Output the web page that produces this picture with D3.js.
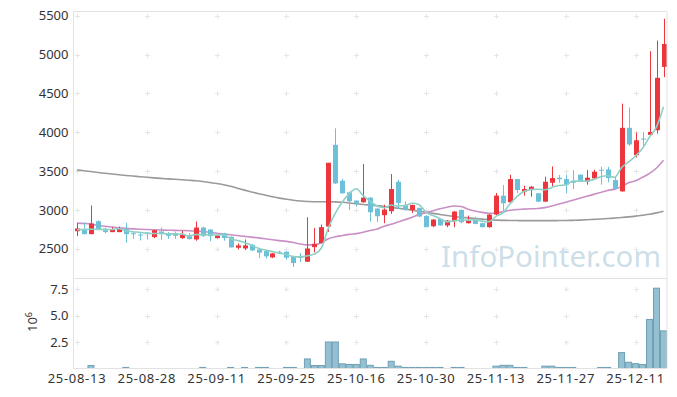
<!DOCTYPE html>
<html><head><meta charset="utf-8">
<script src="https://cdn.jsdelivr.net/npm/d3@7"></script>
<style>
html,body{margin:0;padding:0;background:#fff;}
svg{display:block;}
text{font-family:"Noto Sans",sans-serif;}
</style></head>
<body><svg id="c" width="677" height="397"></svg>
<script>
const dates = ["25-08-13","25-08-14","25-08-18","25-08-19","25-08-20","25-08-21","25-08-22","25-08-25","25-08-26","25-08-27",
"25-08-28","25-08-29","25-09-01","25-09-02","25-09-03","25-09-04","25-09-05","25-09-08","25-09-09","25-09-10",
"25-09-11","25-09-12","25-09-15","25-09-16","25-09-17","25-09-18","25-09-19","25-09-22","25-09-23","25-09-24",
"25-09-25","25-09-26","25-09-29","25-09-30","25-10-01","25-10-02","25-10-10","25-10-13","25-10-14","25-10-15",
"25-10-16","25-10-17","25-10-20","25-10-21","25-10-22","25-10-23","25-10-24","25-10-27","25-10-28","25-10-29",
"25-10-30","25-10-31","25-11-03","25-11-04","25-11-05","25-11-06","25-11-07","25-11-10","25-11-11","25-11-12",
"25-11-13","25-11-14","25-11-17","25-11-18","25-11-19","25-11-20","25-11-21","25-11-24","25-11-25","25-11-26",
"25-11-27","25-11-28","25-12-01","25-12-02","25-12-03","25-12-04","25-12-05","25-12-08","25-12-09","25-12-10",
"25-12-11","25-12-12","25-12-15","25-12-16","25-12-17"];

const open  = [2726,2748,2688,2855,2739,2714,2714,2752,2700,2684, 2709,2650,2722,2700,2700,2637,2662,2620,2773,2748,
2637,2697,2654,2513,2504,2551,2491,2470,2389,2462, 2462,2402,2395,2333,2521,2573,2786,3838,3376,3227,
3120,3098,3158,3017,2932,2983,3363,3064,3000,3026, 2923,2790,2885,2800,2855,3000,2829,2885,2829,2778,
2940,3184,3098,3397,3235,3260,3214,3107,3350,3415, 3397,3376,3453,3367,3406,3517,3521,3385,3239,4057,
3705,3919,3966,4026,4842];
const high  = [2829,2842,3056,2865,2773,2778,2786,2833,2726,2714, 2714,2742,2773,2714,2722,2731,2700,2850,2786,2750,
2675,2705,2660,2568,2620,2560,2500,2475,2445,2475, 2470,2410,2444,2906,2769,2812,3607,4051,3402,3235,
3125,3590,3165,3030,3068,3462,3389,3111,3068,3030, 2930,2880,2890,2870,2985,3005,2927,2914,2835,2950,
3218,3320,3453,3400,3312,3305,3218,3427,3560,3450, 3453,3513,3460,3513,3517,3555,3555,3427,4369,4318,
3996,4004,5043,5180,5462];
const low   = [2662,2685,2688,2750,2700,2714,2714,2577,2628,2607, 2620,2637,2615,2628,2628,2628,2620,2603,2655,2598,
2630,2603,2517,2491,2483,2470,2380,2372,2380,2440, 2360,2265,2329,2333,2453,2570,2718,3333,3210,3000,
3043,3095,2850,2842,2829,2949,3013,2990,2960,2905, 2778,2778,2795,2778,2778,2829,2825,2815,2775,2770,
2935,2970,3095,3218,3184,3171,3100,3100,3300,3350, 3214,3270,3365,3325,3400,3325,3355,3260,3235,3826,
3675,3816,3960,3983,4710];
const close = [2761,2688,2825,2756,2714,2752,2752,2688,2690,2676, 2688,2739,2692,2667,2667,2684,2624,2773,2662,2662,
2671,2637,2517,2543,2543,2479,2449,2402,2440,2450, 2385,2316,2389,2504,2564,2778,3607,3342,3214,3111,
3090,3158,2970,2919,3004,3269,3090,3000,3064,2915, 2778,2876,2800,2863,2979,2842,2863,2820,2778,2940,
3184,3085,3397,3256,3269,3299,3107,3363,3410,3395, 3325,3350,3376,3415,3492,3509,3410,3269,4057,3843,
3897,3905,4004,4701,5137];

const ma5 = [2745,2748,2752,2750,2749,2747,2760,2732,2719,2712, 2699,2696,2697,2692,2691,2690,2667,2683,2682,2681,
2678,2681,2630,2606,2582,2544,2506,2483,2463,2444, 2425,2399,2396,2409,2432,2510,2768,2959,3101,3210,
3273,3183,3109,3050,3028,3064,3050,3056,3085,3068, 2969,2927,2887,2846,2859,2872,2869,2873,2856,2849,
2917,2961,3077,3172,3238,3261,3266,3259,3290,3315, 3320,3369,3371,3372,3392,3428,3440,3419,3547,3618,
3695,3794,3941,4070,4329];
const ma20 = [2830,2826,2818,2800,2790,2780,2770,2762,2756,2751, 2747,2744,2741,2739,2737,2735,2732,2728,2722,2712,
2700,2690,2680,2670,2660,2650,2640,2628,2615,2605, 2595,2580,2562,2550,2550,2578,2630,2655,2670,2685,
2695,2712,2735,2755,2790,2815,2845,2875,2905,2940, 2965,2990,3015,3035,3050,3045,3010,2985,2968,2957,
2960,2975,2995,3005,3010,3015,3018,3030,3050,3075, 3100,3125,3150,3175,3200,3225,3250,3268,3300,3350,
3375,3420,3470,3540,3641];
const ma120 = [3513,3505,3495,3482,3472,3462,3452,3444,3436,3428, 3420,3413,3406,3400,3394,3388,3382,3376,3366,3354,
3340,3325,3305,3280,3255,3230,3208,3190,3170,3152, 3137,3124,3114,3108,3106,3106,3106,3104,3098,3090,
3080,3070,3062,3054,3045,3033,3022,3010,2997,2983, 2970,2956,2942,2928,2916,2906,2898,2890,2882,2874,
2869,2866,2864,2863,2862,2862,2862,2862,2862,2863, 2864,2866,2869,2873,2878,2883,2889,2895,2902,2910,
2920,2932,2945,2962,2983];

const volume = [30000,30000,280000,30000,30000,30000,30000,100000,30000,30000, 30000,30000,30000,30000,30000,30000,30000,30000,100000,30000,
30000,30000,100000,30000,100000,30000,100000,100000,30000,30000, 100000,100000,30000,900000,280000,280000,2500000,2500000,440000,380000,
380000,900000,300000,100000,100000,680000,220000,100000,100000,100000, 100000,100000,100000,30000,100000,100000,30000,30000,30000,30000,
220000,300000,300000,100000,100000,30000,30000,220000,220000,100000, 100000,100000,30000,30000,30000,100000,100000,30000,1500000,590000,
460000,370000,4630000,7580000,3550000];

const xTickLabels = ["25-08-13","25-08-28","25-09-11","25-09-25","25-10-16","25-10-30","25-11-13","25-11-27","25-12-11"];
const priceTicks = [2500,3000,3500,4000,4500,5000,5500];
const volumeTicks = [2500000,5000000,7500000];

const svg = d3.select("#c");
const L = 73.5, R = 667, T = 11.5, PB = 278.5, VB = 368.5;

const x = d3.scaleBand().domain(dates).range([L, R]).padding(0);
const y = d3.scaleLinear().domain([2117, 5555]).range([PB, T]);
const yv = d3.scaleLinear().domain([0, 8400000]).range([VB, PB + 1]);
const cx = d => x(d) + x.bandwidth() / 2;

const gridCol = "#e6e6e6";
const gCross = svg.append("g").attr("stroke", gridCol).attr("stroke-width", 1);
function cross(px, py) {
  gCross.append("line").attr("x1", px - 2.5).attr("x2", px + 2.5).attr("y1", py).attr("y2", py);
  gCross.append("line").attr("x1", px).attr("x2", px).attr("y1", py - 2.5).attr("y2", py + 2.5);
}
xTickLabels.forEach(d => {
  priceTicks.forEach(v => cross(Math.round(cx(d)) + 0.5, Math.round(y(v)) + 0.5));
  volumeTicks.forEach(v => cross(Math.round(cx(d)) + 0.5, Math.round(yv(v)) + 0.5));
});

// volume bars
svg.append("g").selectAll("rect").data(dates).join("rect")
  .attr("x", d => x(d) + 0.5)
  .attr("width", x.bandwidth() - 1)
  .attr("y", (d, i) => yv(volume[i]))
  .attr("height", (d, i) => VB - yv(volume[i]))
  .attr("fill", "#95c0d1")
  .attr("stroke", (d, i) => (VB - yv(volume[i])) >= 1 ? "#6e9fb5" : "none")
  .attr("stroke-width", 1);

// watermark
svg.append("text").attr("x", 441).attr("y", 267).attr("font-family", "Lato, sans-serif")
  .attr("font-size", 29.5).attr("fill", "#c3d8e4").attr("fill-opacity", 0.85).text("InfoPointer.com");

// moving averages
const line = arr => d3.line().x((v, i) => cx(dates[i])).y(v => y(v)).curve(d3.curveMonotoneX)(arr);
svg.append("path").attr("d", line(ma120)).attr("fill", "none").attr("stroke", "#9a9a9a").attr("stroke-width", 1.6);
svg.append("path").attr("d", line(ma20)).attr("fill", "none").attr("stroke", "#c98fc6").attr("stroke-width", 1.6);

// candles
const up = "#ec353c", down = "#6cc1d9";
const gC = svg.append("g");
dates.forEach((d, i) => {
  const col = close[i] >= open[i] ? up : down;
  const c = Math.round(cx(d)) + 0.5;
  gC.append("line").attr("x1", c).attr("x2", c).attr("y1", y(high[i])).attr("y2", y(low[i]))
    .attr("stroke", col).attr("stroke-width", 1);
  const top = y(Math.max(open[i], close[i])), bot = y(Math.min(open[i], close[i]));
  gC.append("rect").attr("x", c - 2.5).attr("width", 5).attr("y", top)
    .attr("height", Math.max(1, bot - top)).attr("fill", col);
});

svg.append("path").attr("d", line(ma5)).attr("fill", "none").attr("stroke", "#8fd0c6").attr("stroke-width", 1.6);

// frame
const fr = svg.append("g").attr("stroke", "#e2e2e2").attr("stroke-width", 1).attr("fill", "none");
fr.append("line").attr("x1", L).attr("x2", L).attr("y1", T).attr("y2", VB);
fr.append("line").attr("x1", R).attr("x2", R).attr("y1", T).attr("y2", VB);
fr.append("line").attr("x1", L).attr("x2", R).attr("y1", T).attr("y2", T);
fr.append("line").attr("x1", L).attr("x2", R).attr("y1", PB).attr("y2", PB);
fr.append("line").attr("x1", L).attr("x2", R).attr("y1", VB).attr("y2", VB);

// axes
const yAx = svg.append("g").attr("transform", `translate(${L},0)`)
  .call(d3.axisLeft(y).tickValues(priceTicks).tickSize(0).tickPadding(5).tickFormat(d3.format("d")));
const yvAx = svg.append("g").attr("transform", `translate(${L},0)`)
  .call(d3.axisLeft(yv).tickValues(volumeTicks).tickSize(0).tickPadding(5).tickFormat(v => d3.format(".1f")(v / 1e6)));
const xAx = svg.append("g").attr("transform", `translate(0,${VB})`)
  .call(d3.axisBottom(x).tickValues(xTickLabels).tickSize(0).tickPadding(5));
[yAx, yvAx, xAx].forEach(g => {
  g.select(".domain").remove();
  g.selectAll("text").attr("font-family", "'Noto Sans', sans-serif").attr("font-size", 13).attr("fill", "#333");
});
xAx.selectAll("text").attr("letter-spacing", "0.7px");

// 10^6 label
const ex = svg.append("text").attr("transform", "translate(37,322) rotate(-90)")
  .attr("text-anchor", "middle").attr("font-size", 13).attr("fill", "#333");
ex.append("tspan").text("10");
ex.append("tspan").attr("font-size", 9).attr("dy", -5).text("6");
</script></body></html>
